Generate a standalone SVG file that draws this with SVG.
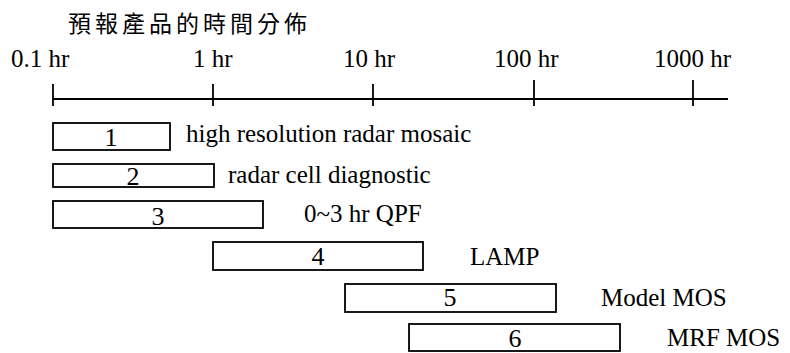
<svg xmlns="http://www.w3.org/2000/svg" width="790" height="353" viewBox="0 0 790 353">
<style>
.t{font-family:"Liberation Serif","Times New Roman",serif;font-size:25px;fill:#000}
.n{font-family:"Liberation Serif","Times New Roman",serif;font-size:26px;fill:#000;text-anchor:middle}
.title{font-family:"Noto Sans CJK TC","Noto Sans CJK SC",sans-serif;font-size:23px;letter-spacing:4px;fill:#000}
.box{fill:#fff;stroke:#000;stroke-width:1.8}
.ax{stroke:#000;stroke-width:1.8;fill:none}
</style>
<rect width="790" height="353" fill="#fff"/>
<text class="title" x="68" y="32">預報產品的時間分佈</text>
<g id="axis">
<text class="t" x="11" y="67">0.1 hr</text>
<text class="t" x="193" y="67">1 hr</text>
<text class="t" x="343" y="67">10 hr</text>
<text class="t" x="494" y="67">100 hr</text>
<text class="t" x="654" y="67">1000 hr</text>
</g>
<g id="connectors">
<line class="ax" x1="53" y1="99" x2="728" y2="99"/>
<line class="ax" x1="53" y1="84" x2="53" y2="106"/>
<line class="ax" x1="213" y1="84" x2="213" y2="106"/>
<line class="ax" x1="373" y1="84" x2="373" y2="106"/>
<line class="ax" x1="534" y1="80" x2="534" y2="106"/>
<line class="ax" x1="693" y1="80" x2="693" y2="106"/>
</g>
<g id="node1">
<rect class="box" x="53" y="123" width="117" height="27"/>
<text class="n" x="111" y="146">1</text>
<text class="t" x="186" y="142">high resolution radar mosaic</text>
</g>
<g id="node2">
<rect class="box" x="53" y="164" width="161" height="23"/>
<text class="n" x="133" y="185">2</text>
<text class="t" x="228" y="183">radar cell diagnostic</text>
</g>
<g id="node3">
<rect class="box" x="53" y="201" width="210" height="27"/>
<text class="n" x="158" y="225">3</text>
<text class="t" x="304" y="222">0~3 hr QPF</text>
</g>
<g id="node4">
<rect class="box" x="213" y="242" width="210" height="28"/>
<text class="n" x="318" y="265">4</text>
<text class="t" x="470" y="265">LAMP</text>
</g>
<g id="node5">
<rect class="box" x="345" y="284" width="211" height="28"/>
<text class="n" x="450" y="306">5</text>
<text class="t" x="601" y="306">Model MOS</text>
</g>
<g id="node6">
<rect class="box" x="409" y="324" width="211" height="27"/>
<text class="n" x="515" y="347">6</text>
<text class="t" x="667" y="346">MRF MOS</text>
</g>
</svg>
